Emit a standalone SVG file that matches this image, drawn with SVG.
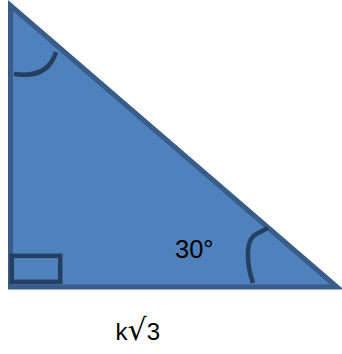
<svg xmlns="http://www.w3.org/2000/svg" width="342" height="354" viewBox="0 0 342 354">
<style>
.tri{fill:#4f81bd;stroke:#385d8a;stroke-width:5;stroke-linejoin:miter}
.mark{fill:none;stroke:#243f60;stroke-width:4.5;stroke-linecap:butt}
.lbl{font-family:"Liberation Sans",Arial,sans-serif;fill:#000}
</style>
<g id="triangle">
<polygon class="tri" points="10.5,5.5 10.5,287 337,287"/>
</g>
<g id="marks">
<rect class="mark" x="11.8" y="255.8" width="48.4" height="26" stroke-width="5"/>
<path class="mark" d="M14,74 Q48,79 56,52"/>
<path class="mark" d="M268,228 L258,233 Q249,237 248,250 Q247,266 253,283"/>
</g>
<g id="labels">
<text class="lbl" x="175" y="257.5" font-size="25.5">30°</text>
<text class="lbl" x="115.5" y="340" font-size="24">k<tspan font-family="'DejaVu Sans',sans-serif" font-size="30">√</tspan>3</text>
</g>
</svg>
